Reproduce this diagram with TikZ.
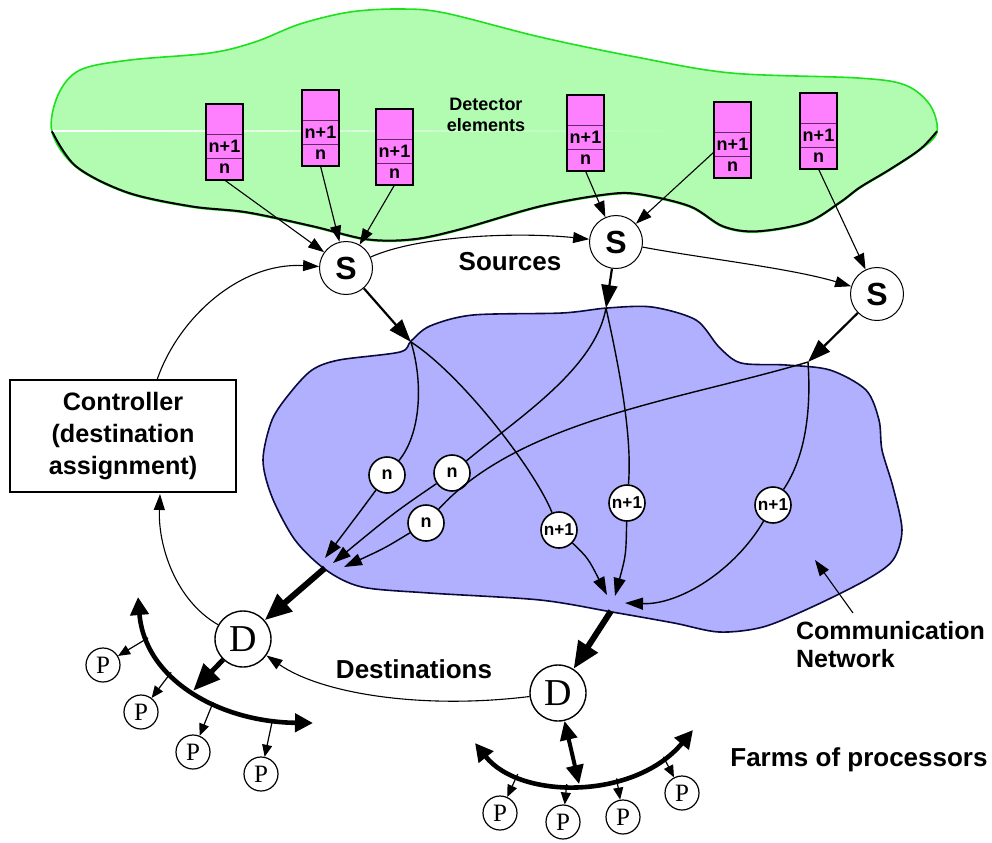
\documentclass[tikz,border=0pt]{standalone}
\usepackage{fontspec}
\setmainfont{Liberation Sans}
\newfontfamily\tmsfont{Liberation Serif}
\usetikzlibrary{arrows.meta,calc}

\definecolor{detgreen}{RGB}{178,252,178}
\definecolor{detedge}{RGB}{30,225,30}
\definecolor{netblue}{RGB}{176,176,255}
\definecolor{netedge}{RGB}{10,10,60}
\definecolor{cellpink}{RGB}{255,128,255}
\definecolor{celledge}{RGB}{100,40,100}

\begin{document}
\begin{tikzpicture}[x=0.5pt,y=-0.5pt,
  srcnode/.style={circle, draw, line width=0.5pt, fill=white, minimum size=26.5pt, inner sep=0pt,
                  font=\fontsize{16}{16}\selectfont\bfseries},
  pktnode/.style={circle, draw, line width=0.8pt, fill=white, minimum size=18pt, inner sep=0pt,
                  font=\fontsize{9}{9}\selectfont\bfseries},
  pktwide/.style={pktnode, font=\fontsize{8.6}{9}\selectfont\bfseries},
  dstnode/.style={circle, draw, line width=0.7pt, fill=white, minimum size=28pt, inner sep=0pt,
                  font=\tmsfont\fontsize{19}{19}\selectfont},
  procnode/.style={circle, draw, line width=0.6pt, fill=white, minimum size=17pt, inner sep=0pt,
                  font=\tmsfont\fontsize{12.5}{12.5}\selectfont},
  cellbase/.style={rectangle, draw=celledge, line width=0.5pt, fill=cellpink, minimum width=18.5pt,
                  inner sep=0pt, outer sep=0pt, font=\fontsize{9}{9}\selectfont\bfseries},
  celltop/.style={cellbase, minimum height=15pt},
  cellmid/.style={cellbase, minimum height=12pt},
  cellbot/.style={cellbase, minimum height=11pt},
  ctrlbox/.style={rectangle, draw, line width=0.8pt, fill=white, minimum width=113pt, minimum height=56pt,
                  align=center, font=\fontsize{12.6}{16}\selectfont\bfseries},
  biglabel/.style={font=\fontsize{13}{16}\selectfont\bfseries},
  thinarrow/.style={line width=0.55pt, -{Triangle[length=8pt,width=5.5pt]}},
  thinline/.style={line width=0.55pt},
  netline/.style={line width=0.7pt},
  netarrow/.style={line width=0.7pt, -{Triangle[length=9pt,width=6pt]}},
  entryarrow/.style={line width=1.1pt, -{Triangle[length=11.5pt,width=8pt]}},
  heavyarrow/.style={line width=3pt, -{Triangle[length=13.5pt,width=11pt]}},
  farmarc/.style={line width=2.3pt, {Triangle[length=9pt,width=9pt]}-{Triangle[length=9pt,width=9pt]}},
  dualarrow/.style={line width=2pt, {Triangle[length=9.5pt,width=8.5pt]}-{Triangle[length=9.5pt,width=8.5pt]}},
  procarrow/.style={line width=0.6pt, -{Triangle[length=6pt,width=5pt]}}
]
\useasboundingbox (0,0) rectangle (992,842);

% ---------- detector region ----------
\filldraw[fill=detgreen, draw=detedge, line width=0.8pt]
  plot[smooth cycle, tension=0.55] coordinates {
   (52,132) (58,95) (80,70) (130,60) (210,53) (255,42) (300,24) (350,12) (400,9) (445,13)
   (540,37) (636,57) (731,73) (858,78) (905,85) (930,105) (937,132)
   (920,150) (890,170) (860,188) (840,203) (807,223) (757,232) (723,227) (690,207)
   (640,195) (607,195) (540,207) (460,230) (413,240) (367,240) (313,227) (247,213)
   (191,207) (127,193) (76,167)};
\draw[black, line width=1pt, yshift=0.35pt]
  plot[smooth, tension=0.55] coordinates {
   (937,132) (920,150) (890,170) (860,188) (840,203) (807,223) (757,232) (723,227) (690,207)
   (640,195) (607,195) (540,207) (460,230) (413,240) (367,240) (313,227) (247,213)
   (191,207) (127,193) (76,167) (52,132)};
\shade[left color=white, right color=detgreen] (53,130.4) rectangle (680,131.6);

\node[font=\fontsize{9}{10.5}\selectfont\bfseries, align=center] (detlbl) at (486,115) {Detector\\elements};

\foreach \nm/\bx/\by in {b1/206/104, b2/302/90, b3/376/109, b4/567/95, b5/714/102, b6/800/93} {
  \node[celltop] (\nm t) at (\bx+18.5,\by+15) {};
  \node[cellmid] (\nm m) at (\bx+18.5,\by+42) {n+1};
  \node[cellbot] (\nm n) at (\bx+18.5,\by+65) {n};
  \draw[line width=0.8pt] (\nm t.north west) rectangle (\nm n.south east);
}

% ---------- communication network ----------
\filldraw[fill=netblue, draw=netedge, line width=0.8pt]
  plot[smooth cycle, tension=0.5] coordinates {
   (411,341) (430,326) (473,315) (562,313) (607,308) (652,307) (696,320) (719,347) (741,363)
   (786,365) (830,370) (866,390) (879,420) (882,450) (893,487) (902,530) (893,560)
   (866,580) (812,607) (763,627) (719,632) (674,623) (612,612) (540,600) (429,593)
   (362,587) (326,570) (295,540) (272,497) (263,460) (272,420) (290,393) (312,370)
   (339,360) (400,352)};

% ---------- nodes ----------
\node[srcnode] (s1) at (346,268) {S};
\node[srcnode] (s2) at (616,242) {S};
\node[srcnode] (s3) at (877,294) {S};

\node[pktnode] (n1) at (387,475) {n};
\node[pktnode] (n2) at (452,473) {n};
\node[pktnode] (n3) at (426,523) {n};
\node[pktwide] (na) at (559,530) {n+1};
\node[pktwide] (nb) at (627,503) {n+1};
\node[pktwide] (nc) at (773,505) {n+1};

\node[dstnode] (d1) at (243,639) {D};
\node[dstnode] (d2) at (558,693) {D};

\node[procnode] (p1) at (103,665) {P};
\node[procnode] (p2) at (141,712) {P};
\node[procnode] (p3) at (193,752) {P};
\node[procnode] (p4) at (261,774) {P};
\node[procnode] (p5) at (500,813) {P};
\node[procnode] (p6) at (563,822) {P};
\node[procnode] (p7) at (623,817) {P};
\node[procnode] (p8) at (682,793) {P};

\node[ctrlbox] (ctrl) at (123,436) {Controller\\(destination\\assignment)};

\node[biglabel] (srclbl) at (510,262) {Sources};
\node[biglabel] (dstlbl) at (414,669) {Destinations};
\node[biglabel] (farmlbl) at (859,760) {Farms of processors};
\node[font=\fontsize{12.5}{14}\selectfont\bfseries, align=left, anchor=north west] (netlbl) at (789,614) {Communication\\Network};

% ---------- named points ----------
\coordinate (j1) at (411,342);
\coordinate (j2) at (606,308);
\coordinate (j3) at (808,362);
\coordinate (tA1) at (325,558);
\coordinate (tA2) at (333,563);
\coordinate (tA3) at (344,567);
\coordinate (tB1) at (607,595);
\coordinate (tB2) at (615,596);
\coordinate (tB3) at (625,603);
\coordinate (outA) at (325,568);
\coordinate (outB) at (611,611);
\coordinate (ctlA) at (157,380);
\coordinate (ctlB) at (160,494);
\coordinate (netptr) at (853,613);
\coordinate (nettip) at (815,560);
\coordinate (fa1) at (138,597);
\coordinate (fa2) at (313,723);
\coordinate (fa3) at (475,743);
\coordinate (fa4) at (693,730);

% ---------- detector elements to sources ----------
\draw[thinarrow] (b1n.south) -- (s1);
\draw[thinarrow] (b2n.south) -- (s1);
\draw[thinarrow] (b3n.south) -- (s1);
\draw[thinarrow] (b4n.south) -- (s2);
\draw[thinarrow] ([yshift=-4pt]b5m.west) -- (s2);
\draw[thinarrow] (b6n.south) -- (s3);

% ---------- control links ----------
\draw[thinarrow] (s1) .. controls (420,235) and (520,232) .. (s2);
\draw[thinarrow] (s2) .. controls (700,258) and (790,268) .. (s3);
\draw[thinarrow] (ctlA) .. controls (178,318) and (240,262) .. (s1);
\draw[thinarrow] (d1) .. controls (175,600) and (158,545) .. (ctlB);
\draw[thinarrow] (d2) .. controls (420,710) and (320,693) .. (d1);
\draw[thinarrow] (netptr) -- (nettip);

% ---------- sources into the network ----------
\draw[entryarrow] (s1) -- (j1);
\draw[entryarrow] (s2) -- (j2);
\draw[entryarrow] (s3) -- (j3);

% ---------- event fragments through the network ----------
\draw[netline] (j1) .. controls (424,385) and (420,435) .. (n1);
\draw[netarrow] (n1) .. controls (365,505) .. (tA1);
\draw[netline] (j1) .. controls (462,375) and (535,470) .. (na);
\draw[netarrow] (na) .. controls (588,558) .. (tB1);
\draw[netline] (j2) .. controls (595,370) and (515,420) .. (n2);
\draw[netarrow] (n2) .. controls (395,512) .. (tA2);
\draw[netline] (j2) .. controls (622,380) and (632,440) .. (nb);
\draw[netarrow] (nb) .. controls (626,555) .. (tB2);
\draw[netline] (j3) .. controls (680,400) and (520,420) .. (n3);
\draw[netarrow] (n3) .. controls (385,548) .. (tA3);
\draw[netline] (j3) .. controls (812,420) and (802,462) .. (nc);
\draw[netarrow] (nc) .. controls (735,570) and (680,605) .. (tB3);

% ---------- network to destinations ----------
\draw[heavyarrow] (outA) -- (d1);
\draw[heavyarrow] (outB) -- (d2);

% ---------- processor farms ----------
\draw[farmarc] (fa1) .. controls (145,680) and (220,722) .. (fa2)
  coordinate[pos=0.18] (qa1) coordinate[pos=0.37] (qa2) coordinate[pos=0.5] (qaD)
  coordinate[pos=0.6] (qa3) coordinate[pos=0.85] (qa4);
\draw[farmarc] (fa3) .. controls (520,800) and (635,800) .. (fa4)
  coordinate[pos=0.24] (qb1) coordinate[pos=0.45] (qb2) coordinate[pos=0.5] (qbD)
  coordinate[pos=0.65] (qb3) coordinate[pos=0.85] (qb4);

\draw[heavyarrow, line width=2.5pt] (d1) -- (qaD);
\draw[dualarrow] (d2) -- (qbD);

\draw[procarrow] (qa1) -- (p1);
\draw[procarrow] (qa2) -- (p2);
\draw[procarrow] (qa3) -- (p3);
\draw[procarrow] (qa4) -- (p4);
\draw[procarrow] (qb1) -- (p5);
\draw[procarrow] (qb2) -- (p6);
\draw[procarrow] (qb3) -- (p7);
\draw[procarrow] (qb4) -- (p8);
\end{tikzpicture}
\end{document}
